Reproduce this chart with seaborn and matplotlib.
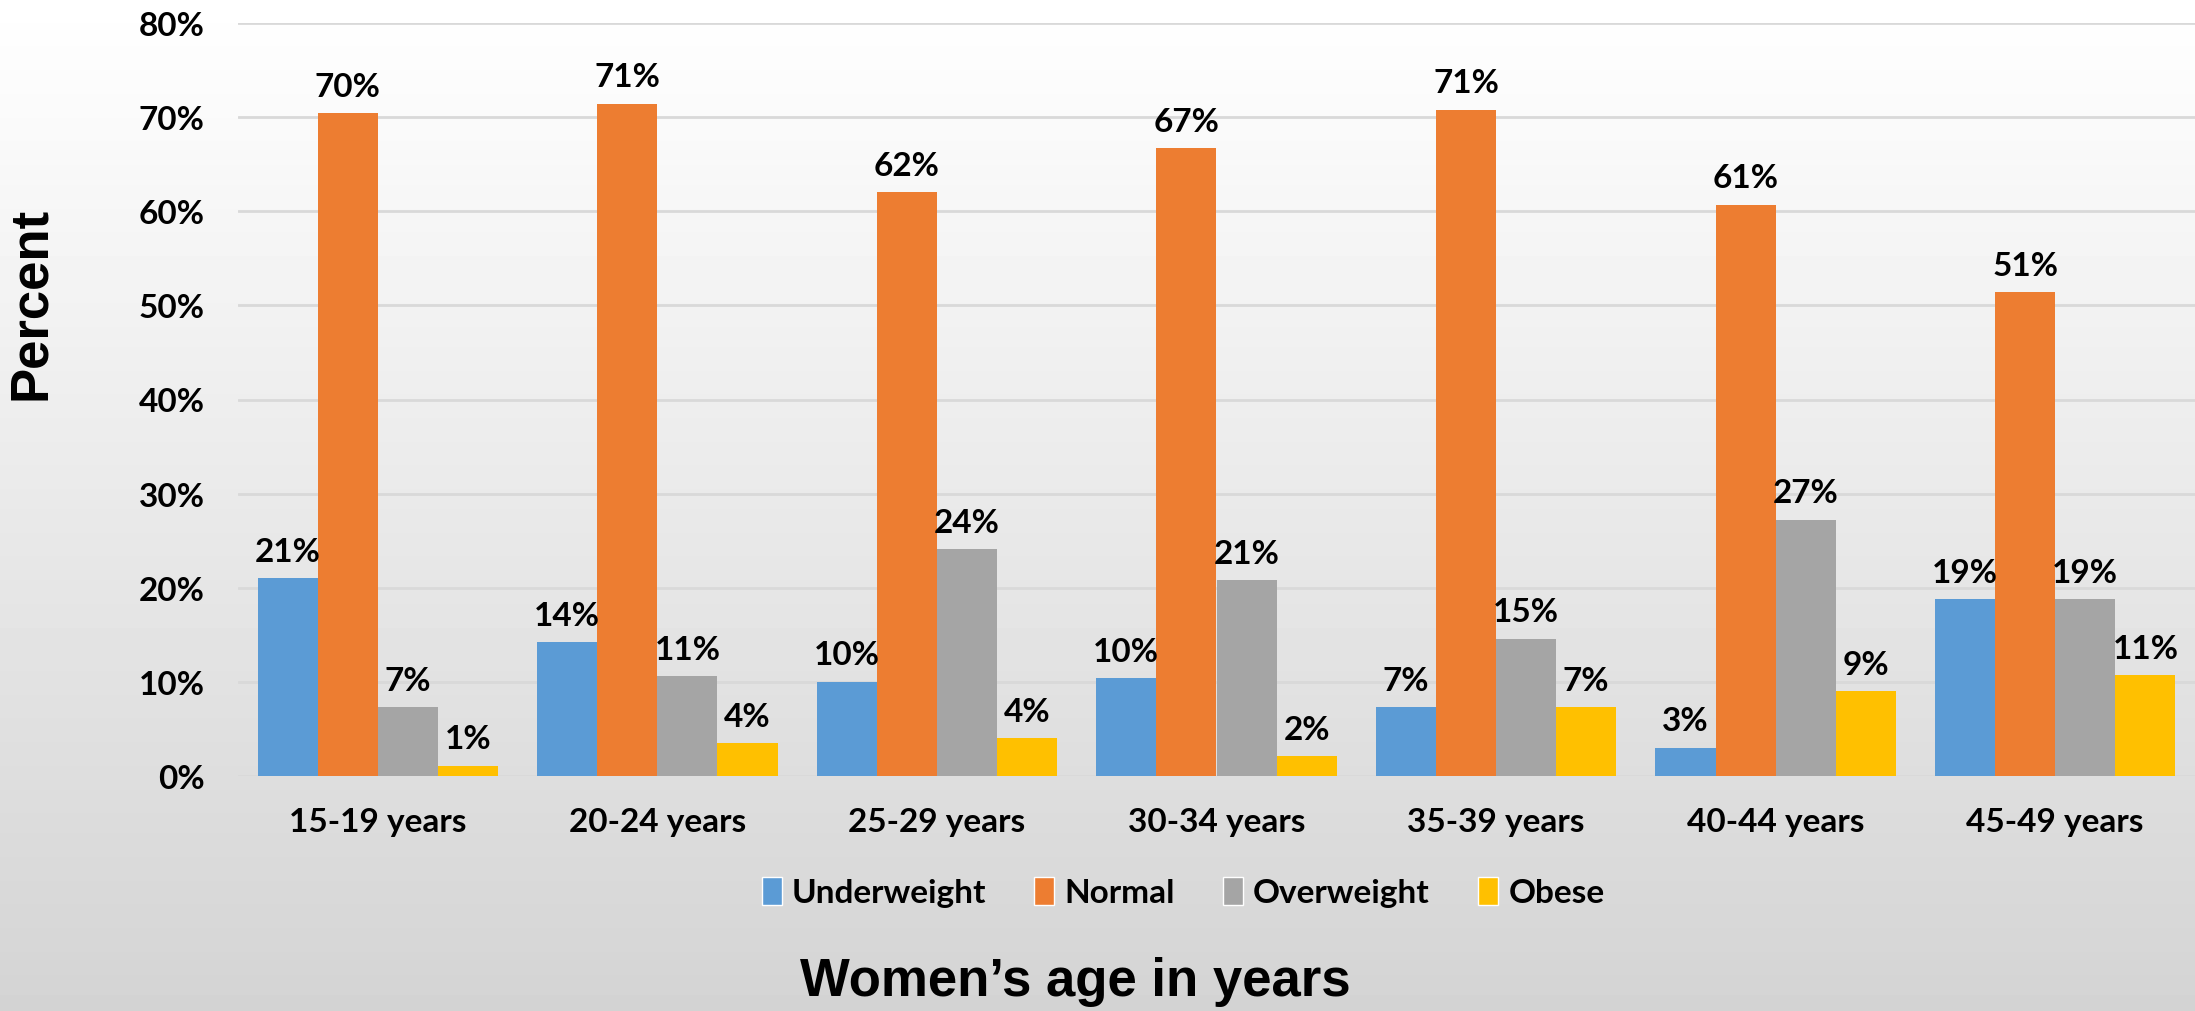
import numpy as np
import pandas as pd
import matplotlib
matplotlib.use("Agg")
import matplotlib.pyplot as plt
import seaborn as sns
from matplotlib.patches import Patch

categories = ["15-19 years", "20-24 years", "25-29 years", "30-34 years",
              "35-39 years", "40-44 years", "45-49 years"]
series_names = ["Underweight", "Normal", "Overweight", "Obese"]
underweight = [21.0, 14.2, 10.0, 10.4, 7.3, 3.0, 18.8]
normal = [70.4, 71.4, 62.0, 66.7, 70.8, 60.7, 51.4]
overweight = [7.3, 10.6, 24.1, 20.8, 14.6, 27.2, 18.8]
obese = [1.1, 3.5, 4.0, 2.1, 7.3, 9.0, 10.7]
colors = ["#5B9BD5", "#ED7D31", "#A5A5A5", "#FFC000"]
yticks = [0, 10, 20, 30, 40, 50, 60, 70, 80]

rows = []
for name, vals in zip(series_names, [underweight, normal, overweight, obese]):
    for c, v in zip(categories, vals):
        rows.append({"Age": c, "Status": name, "Value": v})
df = pd.DataFrame(rows)

sns.set_theme(style="white")
narrow = ["Lato", "DejaVu Sans"]
plt.rcParams["font.family"] = narrow
plt.rcParams["text.color"] = "black"

W, H = 2195, 1012
fig = plt.figure(figsize=(W / 100, H / 100), dpi=100)

# background gradient
bg = fig.add_axes([0, 0, 1, 1], zorder=0)
grad = np.linspace(1.0, 0.83, 256).reshape(-1, 1)
bg.imshow(grad, aspect="auto", cmap="gray", vmin=0, vmax=1, extent=[0, 1, 0, 1])
bg.set_axis_off()

ax = fig.add_axes([238 / W, 1 - 777 / H, 1 - 238 / W, (777 - 24) / H], zorder=1)
ax.set_facecolor("none")

sns.barplot(data=df, x="Age", y="Value", hue="Status", order=categories,
            hue_order=series_names, palette=colors, width=0.86, gap=0,
            linewidth=0, saturation=1, errorbar=None, ax=ax, legend=False)

ax.set_xlim(-0.5, 6.5)
ax.set_ylim(0, 80)
ax.set_yticks(yticks)
ax.set_yticklabels([f"{t}%" for t in yticks])
ax.yaxis.grid(True, color="#d9d9d9", linewidth=2)
ax.set_axisbelow(True)
for s in ax.spines.values():
    s.set_visible(False)
ax.tick_params(axis="both", length=0, labelsize=24, labelcolor="black")
ax.tick_params(axis="y", pad=24)
ax.tick_params(axis="x", pad=22)
for lab in ax.get_xticklabels() + ax.get_yticklabels():
    lab.set_fontweight("bold")
ax.set_xlabel("")
ax.set_ylabel("")

for cont in ax.containers:
    labels = [f"{round(b.get_height())}%" for b in cont]
    ax.bar_label(cont, labels=labels, padding=9, fontsize=24,
                 fontweight="bold", color="black", family=narrow)

handles = [Patch(facecolor=c, label=n) for c, n in zip(colors, series_names)]
leg = fig.legend(handles=handles, loc="center", bbox_to_anchor=(1183 / W, 1 - 893 / H),
                 ncol=4, frameon=False, prop={"weight": "bold", "size": 24, "family": narrow},
                 handlelength=0.6, handleheight=0.9, handletextpad=0.3, columnspacing=1.45,
                 labelcolor="black")

fig.text(31 / W, 1 - 303 / H, "Percent", rotation=90, ha="center", va="center",
         fontsize=38, fontweight="bold", color="black",
         family=["Liberation Sans", "DejaVu Sans"])
fig.text(1075 / W, 1 - 982 / H, "Women\u2019s age in years", ha="center", va="center",
         fontsize=38, fontweight="bold", color="black",
         family=["Liberation Sans", "DejaVu Sans"])

fig.savefig("out.png", dpi=100)
